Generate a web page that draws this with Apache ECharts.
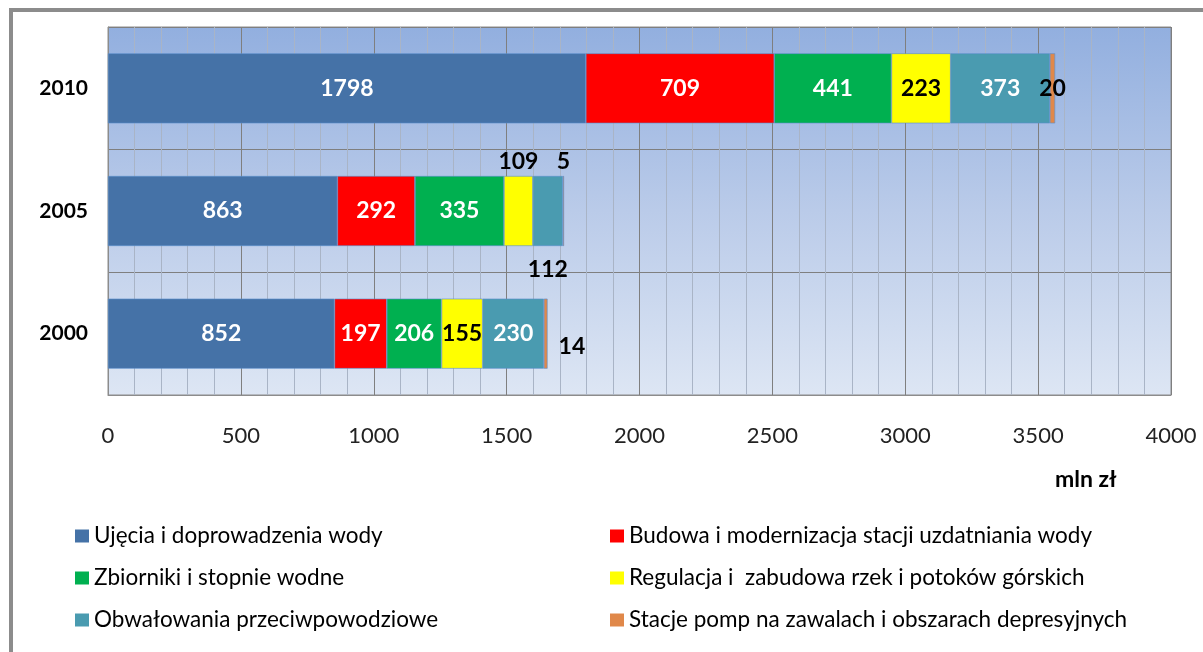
<!DOCTYPE html>
<html>
<head>
<meta charset="utf-8">
<script src="https://cdn.jsdelivr.net/npm/echarts@6/dist/echarts.min.js"></script>
<style>
  html, body { margin: 0; padding: 0; background: #fff; }
  #chart { width: 1203px; height: 652px; }
</style>
</head>
<body>
<div id="chart"></div>
<script>
// dane (mln zł)
var years = ['2000', '2005', '2010'];
var seriesNames = [
  'Ujęcia i doprowadzenia wody',
  'Budowa i modernizacja stacji uzdatniania wody',
  'Zbiorniki i stopnie wodne',
  'Regulacja i  zabudowa rzek i potoków górskich',
  'Obwałowania przeciwpowodziowe',
  'Stacje pomp na zawalach i obszarach depresyjnych'
];
var ujecia = [852, 863, 1798];
var stacjeUzdat = [197, 292, 709];
var zbiorniki = [206, 335, 441];
var regulacja = [155, 109, 223];
var obwalowania = [230, 112, 373];
var pompy = [14, 5, 20];
var xTicks = [0, 500, 1000, 1500, 2000, 2500, 3000, 3500, 4000];

var values = [ujecia, stacjeUzdat, zbiorniki, regulacja, obwalowania, pompy];
var colors = ['#4572a7', '#ff0000', '#00b050', '#ffff00', '#4a9bb0', '#e0884a'];
var labelColors = ['#fff', '#fff', '#fff', '#000', '#fff', '#000'];

// etykiety poza słupkiem (seria, rok) -> ustawienia
var labelFix = {
  '3-1': { position: 'top', distance: 3 },
  '4-1': { position: 'bottom', distance: 12 },
  '5-1': { position: 'top', distance: 3 },
  '5-0': { position: 'right', distance: 11, offset: [0, 13] },
  '5-2': { position: 'inside' }
};

var chart = echarts.init(document.getElementById('chart'));
var series = values.map(function (arr, s) {
  return {
    name: seriesNames[s],
    type: 'bar',
    stack: 'total',
    barWidth: 70,
    itemStyle: { color: colors[s], borderColor: '#5b8fcc', borderWidth: 0.6 },
    label: {
      show: true,
      position: 'inside',
      color: labelColors[s],
      fontFamily: 'Lato',
      fontWeight: 'bold',
      fontSize: 23
    },
    data: arr.map(function (v, i) {
      var fix = labelFix[s + '-' + i];
      if (!fix) return v;
      var lab = Object.assign({ color: '#000' }, fix);
      return { value: v, label: lab };
    })
  };
});

var legendText = { fontFamily: 'Lato', fontSize: 22.5, lineHeight: 24, color: '#000' };

chart.setOption({
  animation: false,
  grid: {
    left: 108, right: 32, top: 27, bottom: 257,
    show: true,
    borderColor: '#8c8c8c',
    borderWidth: 1,
    backgroundColor: new echarts.graphic.LinearGradient(0, 0, 0, 1, [
      { offset: 0, color: '#92afdf' },
      { offset: 0.5, color: '#bacbe9' },
      { offset: 1, color: '#dde6f4' }
    ])
  },
  title: {
    text: 'mln zł',
    left: 1050, top: 463,
    textStyle: { fontFamily: 'Lato', fontSize: 23, fontWeight: 'bold', color: '#000' }
  },
  legend: [
    {
      data: [seriesNames[0], seriesNames[2], seriesNames[4]],
      orient: 'vertical', left: 70, top: 519,
      itemWidth: 14, itemHeight: 13, itemGap: 18,
      icon: 'rect',
      itemStyle: { borderWidth: 0 },
      textStyle: legendText
    },
    {
      data: [seriesNames[1], seriesNames[3], seriesNames[5]],
      orient: 'vertical', left: 605, top: 519,
      itemWidth: 14, itemHeight: 13, itemGap: 18,
      icon: 'rect',
      itemStyle: { borderWidth: 0 },
      textStyle: legendText
    }
  ],
  xAxis: {
    type: 'value',
    min: xTicks[0], max: xTicks[xTicks.length - 1], interval: xTicks[1] - xTicks[0],
    axisLine: { show: true, lineStyle: { color: '#8c8c8c' } },
    axisTick: { show: false },
    axisLabel: {
      margin: 30, fontFamily: 'Lato', fontSize: 22, color: '#222',
      formatter: function (v) { return String(v); }
    },
    splitLine: { show: true, lineStyle: { color: '#7f7f7f', width: 1 } },
    minorTick: { show: false, splitNumber: 5 },
    minorSplitLine: { show: true, lineStyle: { color: '#a9b4c6', width: 1 } }
  },
  yAxis: {
    type: 'category',
    data: years,
    axisLine: { show: true, lineStyle: { color: '#8c8c8c' } },
    axisTick: { show: false },
    axisLabel: { margin: 20, fontFamily: 'Lato', fontSize: 21, fontWeight: 'bold', color: '#000' },
    splitLine: { show: true, lineStyle: { color: '#7f7f7f', width: 1 } }
  },
  graphic: [
    { type: 'rect', shape: { x: 9, y: 8, width: 1194, height: 4 }, style: { fill: '#8c8c8c' }, silent: true },
    { type: 'rect', shape: { x: 9, y: 8, width: 4, height: 644 }, style: { fill: '#8c8c8c' }, silent: true }
  ],
  series: series
});
</script>
</body>
</html>
